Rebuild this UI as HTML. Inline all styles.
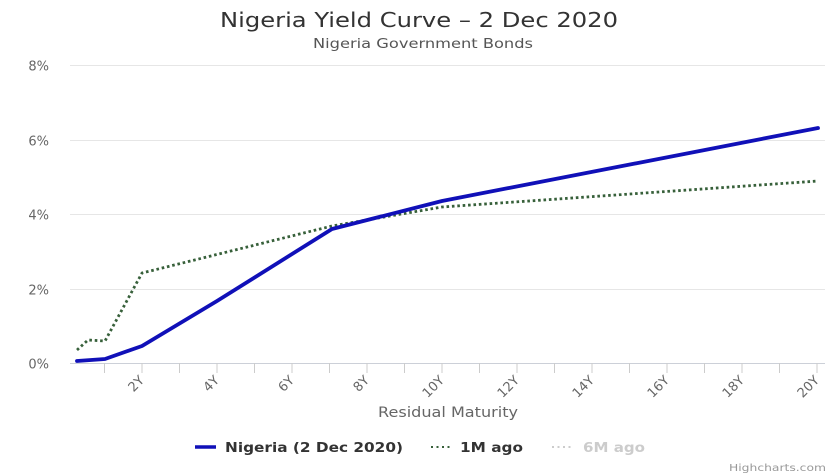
<!DOCTYPE html>
<html>
<head>
<meta charset="utf-8">
<style>
html,body{margin:0;padding:0;background:#fff;}
svg{display:block;}
text{font-family:"DejaVu Sans","Liberation Sans",sans-serif;}
</style>
</head>
<body>
<svg width="840" height="476" viewBox="0 0 840 476" xmlns="http://www.w3.org/2000/svg">
<rect width="840" height="476" fill="#fff"/>
<!-- Title -->
<text x="419" y="27" text-anchor="middle" font-size="20" fill="#333" textLength="398" lengthAdjust="spacingAndGlyphs">Nigeria Yield Curve – 2 Dec 2020</text>
<text x="423" y="48" text-anchor="middle" font-size="13" fill="#555" textLength="220" lengthAdjust="spacingAndGlyphs">Nigeria Government Bonds</text>

<!-- grid -->
<g stroke="#e6e6e6" stroke-width="1">
<line x1="70" y1="65.5" x2="825" y2="65.5"/>
<line x1="70" y1="140.5" x2="825" y2="140.5"/>
<line x1="70" y1="214.5" x2="825" y2="214.5"/>
<line x1="70" y1="289.5" x2="825" y2="289.5"/>
</g>
<line x1="70" y1="363.5" x2="825" y2="363.5" stroke="#ccd0d8" stroke-width="1"/>
<!-- ticks -->
<g stroke="#cccccc" stroke-width="1">
<line x1="104.5" y1="363" x2="104.5" y2="373"/>
<line x1="142" y1="363" x2="142" y2="373"/>
<line x1="179.5" y1="363" x2="179.5" y2="373"/>
<line x1="217" y1="363" x2="217" y2="373"/>
<line x1="254.5" y1="363" x2="254.5" y2="373"/>
<line x1="292" y1="363" x2="292" y2="373"/>
<line x1="329.5" y1="363" x2="329.5" y2="373"/>
<line x1="367" y1="363" x2="367" y2="373"/>
<line x1="404.5" y1="363" x2="404.5" y2="373"/>
<line x1="442" y1="363" x2="442" y2="373"/>
<line x1="479.5" y1="363" x2="479.5" y2="373"/>
<line x1="517" y1="363" x2="517" y2="373"/>
<line x1="554.5" y1="363" x2="554.5" y2="373"/>
<line x1="592" y1="363" x2="592" y2="373"/>
<line x1="629.5" y1="363" x2="629.5" y2="373"/>
<line x1="667" y1="363" x2="667" y2="373"/>
<line x1="704.5" y1="363" x2="704.5" y2="373"/>
<line x1="742" y1="363" x2="742" y2="373"/>
<line x1="779.5" y1="363" x2="779.5" y2="373"/>
<line x1="817" y1="363" x2="817" y2="373"/>
</g>

<!-- y labels -->
<g font-size="13" fill="#666" text-anchor="end">
<text x="49" y="70.5">8%</text>
<text x="49" y="145.5">6%</text>
<text x="49" y="219.5">4%</text>
<text x="49" y="294.5">2%</text>
<text x="49" y="368.5">0%</text>
</g>

<!-- x labels -->
<g font-size="13" fill="#666" text-anchor="end">
<text transform="translate(145,381) rotate(-45)">2Y</text>
<text transform="translate(220,381) rotate(-45)">4Y</text>
<text transform="translate(295,381) rotate(-45)">6Y</text>
<text transform="translate(370,381) rotate(-45)">8Y</text>
<text transform="translate(445,381) rotate(-45)">10Y</text>
<text transform="translate(520,381) rotate(-45)">12Y</text>
<text transform="translate(595,381) rotate(-45)">14Y</text>
<text transform="translate(670,381) rotate(-45)">16Y</text>
<text transform="translate(745,381) rotate(-45)">18Y</text>
<text transform="translate(820,381) rotate(-45)">20Y</text>
</g>
<text x="448" y="417" text-anchor="middle" font-size="14" fill="#666" textLength="140" lengthAdjust="spacingAndGlyphs">Residual Maturity</text>

<!-- series: 1M ago (dotted green) -->
<polyline fill="none" stroke="#37603a" stroke-width="2.8" stroke-dasharray="2.6,2.8" stroke-linejoin="round"
 points="77,350 88,340 105,341 142,273 332,226 442,207 818,181"/>
<!-- series: Nigeria blue -->
<polyline fill="none" stroke="#1010b8" stroke-width="3.8" stroke-linejoin="round" stroke-linecap="round"
 points="77,361 105,359 142,346 217,301 332,229 442,201 818,128"/>

<!-- legend -->
<line x1="195" y1="447" x2="216" y2="447" stroke="#1010b8" stroke-width="3.5"/>
<text x="225" y="452" font-size="13.5" font-weight="bold" fill="#333" textLength="178" lengthAdjust="spacingAndGlyphs">Nigeria (2 Dec 2020)</text>
<line x1="431" y1="447" x2="452" y2="447" stroke="#37603a" stroke-width="2" stroke-dasharray="2,3.5"/>
<text x="460" y="452" font-size="13.5" font-weight="bold" fill="#333" textLength="63" lengthAdjust="spacingAndGlyphs">1M ago</text>
<line x1="552" y1="447" x2="573" y2="447" stroke="#cccccc" stroke-width="2" stroke-dasharray="2,3.5"/>
<text x="583" y="452" font-size="13.5" font-weight="bold" fill="#cccccc" textLength="62" lengthAdjust="spacingAndGlyphs">6M ago</text>

<text x="826" y="471" text-anchor="end" font-size="10" fill="#999" textLength="97" lengthAdjust="spacingAndGlyphs">Highcharts.com</text>
</svg>
</body>
</html>
